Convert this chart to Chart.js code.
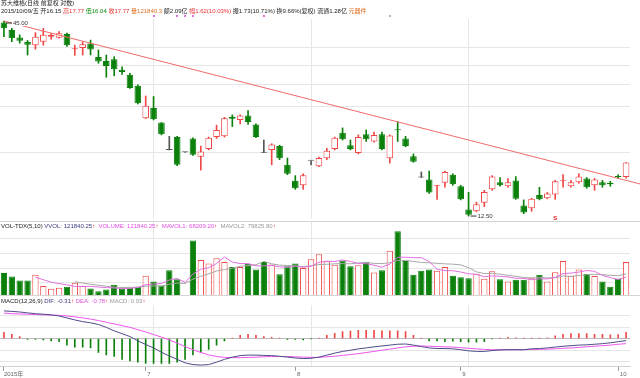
<!DOCTYPE html>
<html><head><meta charset="utf-8">
<script src="https://cdn.jsdelivr.net/npm/chart.js@4.4.1/dist/chart.umd.min.js"></script>
<style>
html,body{margin:0;padding:0;background:#fff;}
body{width:640px;height:378px;position:relative;overflow:hidden;font-family:"Liberation Sans","Noto Sans CJK SC",sans-serif;}
.pane{position:absolute;left:0;width:640px;}
.txt{position:absolute;left:1px;font-size:6px;line-height:7px;white-space:nowrap;color:#222;z-index:5;}
.r{color:#e83030}.g{color:#0a8a0a}.o{color:#e07020}.b{color:#3a3a80}.m{color:#e050e0}.gy{color:#999}
.sep{position:absolute;left:0;width:640px;height:0;border-top:1px solid #d4d4d4;z-index:4;}
</style></head>
<body>
<div class="txt" style="top:0px">苏大维格(日线 前复权 对数)</div>
<div class="txt" style="top:8px">2015/10/09/五 开16.15 <span class="r">高17.77</span> <span class="g">低16.04</span> <span class="r">收17.77</span> <span class="o">量121840.3</span> 额2.09亿 <span class="r">幅1.62(10.03%)</span> 振1.73(10.71%) 换9.66%(复权) 流通1.28亿 <span class="o">元器件</span></div>
<div class="pane" style="top:0;height:222px"><canvas id="cMain"></canvas></div>
<div class="sep" style="top:221px"></div>
<div class="txt" style="top:223px">VOL-TDX(5,10) <span class="b">VVOL: 121840.25</span><span class="r">↑</span> &nbsp;<span class="m">VOLUME: 121840.25</span><span class="r">↑</span> &nbsp;<span class="m">MAVOL1: 68209.20</span><span class="r">↑</span> &nbsp;<span class="gy">MAVOL2: 79825.80</span><span class="r">↑</span></div>
<div class="pane" style="top:222px;height:74px"><canvas id="cVol"></canvas></div>
<div class="sep" style="top:295px"></div>
<div class="txt" style="top:298px">MACD(12,26,9) <span class="b">DIF: -0.31</span><span class="r">↑</span> <span class="m">DEA: -0.78</span><span class="r">↑</span> <span class="gy">MACD: 0.93</span><span class="r">↑</span></div>
<div class="pane" style="top:296px;height:82px"><canvas id="cMacd"></canvas></div>
<script>
const dates = ['2015-06-04','2015-06-05','2015-06-08','2015-06-09','2015-06-10','2015-06-11','2015-06-12','2015-06-15','2015-06-16','2015-06-17','2015-06-18','2015-06-19','2015-06-23','2015-06-24','2015-06-25','2015-06-26','2015-06-29','2015-06-30',
'2015-07-01','2015-07-02','2015-07-03','2015-07-06','2015-07-07','2015-07-08','2015-07-15','2015-07-16','2015-07-17','2015-07-20','2015-07-21','2015-07-22','2015-07-23','2015-07-24','2015-07-27','2015-07-28','2015-07-29','2015-07-30','2015-07-31',
'2015-08-03','2015-08-04','2015-08-05','2015-08-06','2015-08-07','2015-08-10','2015-08-11','2015-08-12','2015-08-13','2015-08-14','2015-08-17','2015-08-18','2015-08-19','2015-08-20','2015-08-21','2015-08-24','2015-08-25','2015-08-26','2015-08-27','2015-08-28','2015-08-31',
'2015-09-01','2015-09-02','2015-09-07','2015-09-08','2015-09-09','2015-09-10','2015-09-11','2015-09-14','2015-09-15','2015-09-16','2015-09-17','2015-09-18','2015-09-21','2015-09-22','2015-09-23','2015-09-24','2015-09-25','2015-09-28','2015-09-29','2015-09-30',
'2015-10-08','2015-10-09'];
const openP  = [44.6,42.4,40.4,39.2,38.4,39.3,40.6,40.3,41.3,37.4, 37.7,38.8,35.5,34.6,35.0,32.7,31.6,29.4,23.75,25.4, 23.1,19.3,21.0,19.0,20.8,18.45,19.4,21.0,21.1,24.0, 23.5,24.2,22.8,18.95,19.3,19.8,17.5,15.76,15.3,17.97, 17.35,18.26,19.4,21.6,19.9,18.9,21.4,20.4,21.4,18.26, 22.0,20.8,18.5,16.1,15.9,15.2,15.56,16.4,15.2,13.06, 12.9,13.64,14.9,15.6,15.2,15.8,13.4,13.15,14.35,14.05, 14.4,15.7,15.2,15.6,16.0,15.3,15.6,15.55,16.2,16.15];
const highP  = [45.0,42.9,41.1,39.6,41.7,42.9,41.5,42.0,41.6,38.4, 39.2,39.7,37.2,36.0,35.6,33.3,31.9,29.6,27.5,27.4, 23.1,21.1,21.1,19.0,20.9,19.8,21.0,22.7,23.9,24.3, 24.3,25.0,22.9,20.6,20.1,19.9,18.3,16.3,16.5,17.97, 18.4,19.5,21.0,22.3,20.6,21.3,22.0,21.7,21.7,21.3, 23.2,21.1,18.8,16.7,16.8,15.3,16.8,16.5,15.3,14.6, 13.7,14.8,16.3,16.1,16.0,16.2,13.9,14.05,15.1,14.6, 15.8,16.4,15.8,16.5,16.1,16.0,15.8,15.7,16.4,17.77];
const lowP   = [40.6,39.3,38.9,36.0,37.4,38.4,39.9,40.2,38.1,35.9, 36.0,36.0,34.1,31.1,31.4,31.7,28.9,26.1,23.7,23.5, 21.3,19.3,17.4,19.0,18.6,16.9,19.3,20.8,21.0,22.5, 22.9,22.8,20.9,18.95,17.5,18.1,16.4,14.9,14.9,17.5, 17.3,18.1,19.3,20.6,19.3,18.8,20.4,20.3,19.3,17.7, 20.4,19.7,17.8,16.1,14.5,13.95,15.1,15.3,13.9,12.5, 12.85,13.3,14.8,15.2,15.1,13.95,12.7,12.9,13.9,14.0, 13.95,15.1,15.1,15.5,15.0,14.8,15.1,15.2,16.0,16.04];
const closeP = [42.9,40.2,39.5,38.5,40.6,41.1,41.1,41.5,38.4,37.5, 38.6,37.3,34.5,33.5,32.8,32.2,29.0,26.2,25.8,23.6, 21.4,19.3,17.5,19.0,18.7,19.1,20.9,22.0,23.75,23.7, 24.2,23.2,21.0,18.95,20.0,18.26,16.5,15.0,16.35,17.97, 18.3,19.2,20.9,20.7,19.4,21.0,20.7,21.3,19.4,21.2, 21.95,19.8,17.86,16.1,14.6,15.3,16.7,15.4,13.95,12.6, 13.5,14.65,16.2,15.3,15.6,14.0,12.8,14.0,13.95,14.5, 15.7,15.8,15.6,16.2,15.1,15.9,15.3,15.4,16.15,17.77];
const volume = [82300,70100,55400,55400,76400,35800,25800,29500,33200,48000, 35800,27000,17300,23300,40600,27000,29500,33200,72700,51700, 38000,92300,60200,3000,199400,129200,117000,135500,121800,104500, 104500,115600,94900,121800,113300,78600,107100,117000,100800,131800, 150300,125000,112000,128000,107000,110800,123000,84900,92300,162400, 232600,125500,76400,91200,94900,91200,104500,72700,67600,63900, 80100,61700,88600,60200,51700,58000,58000,63900,76400,51700, 85000,125500,72700,95000,79012,71500,52000,33500,62206,121840.25];
const dif = [4.2,4.13,4.04,3.9,3.78,3.7,3.6,3.43,3.13,2.83, 2.57,2.39,2.13,1.7,1.17,0.74,0.3,-0.35,-0.91,-1.43, -2.09,-2.65,-3.17,-3.7,-3.96,-4.04,-3.96,-3.6,-3.17,-2.83, -2.6,-2.52,-2.52,-2.57,-2.6,-2.7,-2.83,-2.96,-3.04,-3.0, -2.83,-2.52,-2.22,-1.96,-1.78,-1.57,-1.43,-1.26,-1.13,-1.0, -0.87,-0.83,-1.0,-1.22,-1.43,-1.52,-1.52,-1.57,-1.7,-1.87, -1.96,-1.96,-1.83,-1.74,-1.7,-1.7,-1.7,-1.57,-1.52,-1.43, -1.3,-1.17,-1.09,-1.0,-0.96,-0.87,-0.78,-0.65,-0.48,-0.31];
const dea = [3.87,3.78,3.74,3.7,3.65,3.6,3.57,3.52,3.43,3.3, 3.13,2.96,2.74,2.48,2.22,1.96,1.7,1.35,1.0,0.61, 0.22,-0.22,-0.7,-1.22,-1.7,-2.13,-2.48,-2.74,-2.87,-2.91, -2.91,-2.87,-2.83,-2.78,-2.74,-2.74,-2.74,-2.78,-2.83,-2.87, -2.87,-2.78,-2.7,-2.57,-2.43,-2.3,-2.13,-1.96,-1.78,-1.61, -1.43,-1.26,-1.17,-1.13,-1.17,-1.22,-1.26,-1.3,-1.39,-1.48, -1.57,-1.65,-1.7,-1.7,-1.7,-1.7,-1.7,-1.65,-1.65,-1.61, -1.57,-1.48,-1.43,-1.35,-1.26,-1.17,-1.09,-1.0,-0.87,-0.78];
const macdBar = [0.96,0.65,0.3,-0.13,-0.13,-0.2,-0.35,-0.48,-1.0,-1.3, -1.3,-1.43,-2.1,-2.5,-2.74,-3.17,-3.4,-3.6,-3.8,-3.8, -3.8,-3.8,-3.6,-3.17,-2.5,-2.1,-1.65,-1.0,-0.35,0.05, 0.5,0.65,0.5,0.3,0.2,0.05,-0.13,-0.13,-0.2,-0.05, 0.05,0.5,0.8,1.04,1.13,1.26,1.26,1.26,1.17,1.17, 1.17,1.04,0.5,0.05,-0.35,-0.35,-0.48,-0.4,-0.48,-0.56, -0.56,-0.48,-0.05,0.05,0.17,0.1,0.05,0.05,0.05,0.1, 0.4,0.65,0.74,0.74,0.74,0.65,0.65,0.57,0.6,0.93];
const priceGrid = [19.0, 25.6, 29.6, 33.5, 37.9];
const volGrid = [48000, 100000, 152000, 205000];
const macdGrid = [-3.5, -1.75, 0, 1.75, 3.5];
const vGridIdx = [19, 39, 59];
const infoMarks = [19, 22, 23, 24, 33, 49];
const signalMarks = [70];
const trendAnchors = [[0, 45.0], [50, 23.2]];
const yearLabel = '2015年';

const N = dates.length;
const UP = '#f04848', DN = '#0b800b', DOJI = '#555';
const GRID = '#e6e6e6';
function dirOf(i){ if(closeP[i]>openP[i]) return 1; if(closeP[i]<openP[i]) return -1; return 0; }
function volDir(i){ const d=dirOf(i); if(d!==0) return d; return (i>0 && closeP[i]>=closeP[i-1])?1:-1; }
function candleColor(i){ const d=dirOf(i); return d>0?UP:(d<0?DN:DOJI); }
function movingAvg(arr,n){ return arr.map((v,i)=> i<n-1?null: arr.slice(i-n+1,i+1).reduce((a,b)=>a+b,0)/n); }
const vGridColor = ctx => vGridIdx.includes(ctx.index) ? GRID : 'rgba(0,0,0,0)';
function isMonthStart(i){ return i===0 || dates[i].slice(5,7)!==dates[i-1].slice(5,7); }

const common = {
  animation:false, responsive:true, maintainAspectRatio:false,
  plugins:{legend:{display:false}, tooltip:{enabled:false}},
};
const xHidden = {display:true, offset:true, grid:{offset:false, color:vGridColor, drawTicks:false}, ticks:{display:false}, border:{display:false}};

const trendPlugin = {
  id:'trend',
  afterDatasetsDraw(chart){
    const {ctx, scales:{x,y}, chartArea} = chart;
    const [a,b] = trendAnchors;
    const x1=x.getPixelForValue(a[0]), y1=y.getPixelForValue(a[1]);
    const x2=x.getPixelForValue(b[0]), y2=y.getPixelForValue(b[1]);
    const xe = chart.width, ye = y1 + (y2-y1)*(xe-x1)/(x2-x1);
    ctx.save(); ctx.strokeStyle='#f06a6a'; ctx.lineWidth=1;
    ctx.beginPath(); ctx.moveTo(x1,y1); ctx.lineTo(xe,ye); ctx.stroke();
    const hi = Math.max(...highP), lo = Math.min(...lowP);
    const hiI = highP.indexOf(hi), loI = lowP.indexOf(lo);
    ctx.font='6px "Liberation Sans"'; ctx.textBaseline='middle';
    let px=x.getPixelForValue(hiI), py=y.getPixelForValue(hi)+2;
    ctx.fillStyle='#fff'; ctx.fillRect(px+8,py-3,16,6);
    ctx.strokeStyle='#333'; ctx.beginPath(); ctx.moveTo(px+2,py); ctx.lineTo(px+8,py); ctx.stroke();
    ctx.fillStyle='#333'; ctx.fillText(hi.toFixed(2), px+9, py);
    px=x.getPixelForValue(loI); py=y.getPixelForValue(lo);
    ctx.beginPath(); ctx.moveTo(px+2,py); ctx.lineTo(px+8,py); ctx.stroke();
    ctx.fillText(lo.toFixed(2), px+9, py);
    infoMarks.forEach((i,k)=>{ const mx=x.getPixelForValue(i); ctx.fillStyle = k===infoMarks.length-1?'#c8a8c8':'#e070e0'; ctx.fillRect(Math.round(mx)-1, chartArea.top-4, 2, 2); });
    signalMarks.forEach(i=>{ const mx=x.getPixelForValue(i); ctx.fillStyle='#e02020'; ctx.font='bold 6px "Liberation Sans"'; ctx.textAlign='center'; ctx.fillText('S', mx, chartArea.bottom-1); });
    ctx.restore();
  }
};

new Chart(document.getElementById('cMain'), {
  type:'bar',
  data:{labels:dates, datasets:[
    {data: dates.map((d,i)=>[openP[i], closeP[i]]),
     backgroundColor: c=> dirOf(c.dataIndex)>0 ? '#ffffff' : candleColor(c.dataIndex),
     borderColor: c=> candleColor(c.dataIndex), borderWidth:1, borderSkipped:false,
     barPercentage:0.84, categoryPercentage:1, grouped:false, minBarLength:1},
    {data: dates.map((d,i)=>[lowP[i], highP[i]]),
     backgroundColor: c=> candleColor(c.dataIndex), barThickness:1, grouped:false}
  ]},
  options:{...common, layout:{padding:{top:19,right:10,left:0,bottom:3}},
    scales:{x:xHidden,
      y:{type:'logarithmic', min:12.26, max:45.6, display:true, ticks:{display:false}, border:{display:false},
         grid:{color:GRID, drawTicks:false}, afterBuildTicks:s=>{s.ticks = priceGrid.map(v=>({value:v}));}}}},
  plugins:[trendPlugin]
});

new Chart(document.getElementById('cVol'), {
  type:'bar',
  data:{labels:dates, datasets:[
    {type:'line', data: movingAvg(volume,5), borderColor:'#e070e0', borderWidth:1, pointRadius:0, tension:0},
    {type:'line', data: movingAvg(volume,10), borderColor:'#a8a8a8', borderWidth:1, pointRadius:0, tension:0},
    {type:'bar', data: volume,
     backgroundColor: c=> volDir(c.dataIndex)>0 ? '#ffffff' : DN,
     borderColor: c=> volDir(c.dataIndex)>0 ? UP : DN, borderWidth:1, borderSkipped:false,
     barPercentage:0.8, categoryPercentage:1}
  ]},
  options:{...common, layout:{padding:{top:0,right:10,left:0,bottom:0}},
    scales:{x:xHidden,
      y:{min:0, max:266000, display:true, ticks:{display:false}, border:{display:false},
         grid:{color:GRID, drawTicks:false}, afterBuildTicks:s=>{s.ticks = volGrid.map(v=>({value:v}));}}}}
});

new Chart(document.getElementById('cMacd'), {
  type:'bar',
  data:{labels:dates, datasets:[
    {type:'line', data: dif, borderColor:'#4c4c88', borderWidth:1, pointRadius:0, tension:0},
    {type:'line', data: dea, borderColor:'#ee55ee', borderWidth:1, pointRadius:0, tension:0},
    {type:'bar', data: macdBar, backgroundColor: c=> c.raw>=0 ? UP : DN, barThickness:1}
  ]},
  options:{...common, layout:{padding:{top:9,right:10,left:0,bottom:0}},
    scales:{
      x:{display:true, offset:true,
         grid:{offset:false, color:vGridColor, drawTicks:true, tickLength:4, tickColor: c=> isMonthStart(c.index)?'#999':'rgba(0,0,0,0)'},
         border:{display:true, color:'#d0d0d0'},
         ticks:{autoSkip:false, maxRotation:0, align:'start', padding:0, color:'#666', font:{size:6, family:'"Liberation Sans","Noto Sans CJK SC"'},
           callback:(v,i)=> i===0 ? yearLabel : (isMonthStart(i) ? ' '+Number(dates[i].slice(5,7)) : '')}},
      y:{min:-4.3, max:5.1, display:true, ticks:{display:false}, border:{display:false},
         grid:{color: c=> c.tick.value===0 ? '#bbb' : GRID, drawTicks:false}, afterBuildTicks:s=>{s.ticks = macdGrid.map(v=>({value:v}));}}}}
});
</script>
</body></html>
